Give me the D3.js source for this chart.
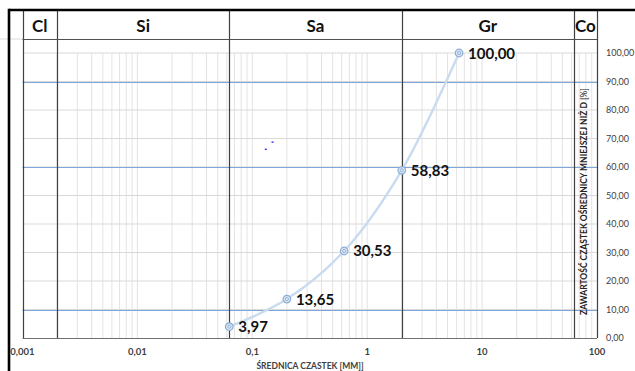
<!DOCTYPE html>
<html><head><meta charset="utf-8">
<script src="https://cdn.jsdelivr.net/npm/d3@7"></script>
<style>html,body{margin:0;padding:0;background:#fff;}svg{display:block;}</style>
</head><body>
<svg id="c" width="635" height="371"></svg>
<script>
// ---- data ----
const sieveSizes = [0.063, 0.2, 0.63, 2, 6.3];          // mm
const passing    = [3.97, 13.65, 30.53, 58.83, 100.00];  // %
const classBounds = [0.001, 0.002, 0.063, 2, 63, 100];
const classLabels = ["Cl", "Si", "Sa", "Gr", "Co"];
const refLevels = [10, 60, 90];
const xTicks = [0.001, 0.01, 0.1, 1, 10, 100];
const yTicks = [0, 10, 20, 30, 40, 50, 60, 70, 80, 90, 100];
const strayX = [0.131, 0.150];
const strayY = [66.3, 68.8];
const xTitle = "ŚREDNICA CZASTEK [MM]]";
const yTitleBold = "ZAWARTOŚĆ CZĄSTEK OŚREDNICY MNIEJSZEJ NIŻ D ";
const yTitleRest = "[%]";

const svg = d3.select("#c");
const x = d3.scaleLog().domain([0.001, 100]).range([22.5, 597]);
const y = d3.scaleLinear().domain([0, 100]).range([338, 53]);
const comma = v => d3.format(".2f")(v).replace(".", ",");
const font = "Lato, 'Open Sans', sans-serif";

// minor vertical grid
const minor = [];
for (let e = -3; e < 2; e++) for (let m = 1; m <= 9; m++) minor.push(m * Math.pow(10, e));
svg.append("g").selectAll("line").data(minor.filter(v => v > 0.001)).join("line")
  .attr("x1", d => x(d)).attr("x2", d => x(d)).attr("y1", y(100)).attr("y2", y(0))
  .attr("stroke", "#e3e3e3").attr("stroke-width", 1);
// horizontal grid
svg.append("g").selectAll("line").data(yTicks.slice(1)).join("line")
  .attr("x1", x(0.001)).attr("x2", x(100)).attr("y1", d => y(d)).attr("y2", d => y(d))
  .attr("stroke", "#d9d9d9").attr("stroke-width", 1);

// reference lines
svg.append("g").selectAll("line").data(refLevels).join("line")
  .attr("x1", x(0.001)).attr("x2", x(100)).attr("y1", d => Math.round(y(d)) + 0.5).attr("y2", d => Math.round(y(d)) + 0.5)
  .attr("stroke", "#7ea6d8").attr("stroke-width", 1.2);

// faint cell line
svg.append("line").attr("x1", 0).attr("x2", x(0.001)).attr("y1", 39).attr("y2", 39)
  .attr("stroke", "#dcdcdc");

// class boundary verticals
svg.append("g").selectAll("line").data(classBounds).join("line")
  .attr("x1", d => Math.round(x(d)) + 0.5).attr("x2", d => Math.round(x(d)) + 0.5)
  .attr("y1", 10).attr("y2", y(0))
  .attr("stroke", "#404040").attr("stroke-width", 1.2);
// header bottom + x axis line
svg.append("line").attr("x1", x(0.001)).attr("x2", x(100)).attr("y1", 39.5).attr("y2", 39.5)
  .attr("stroke", "#505050").attr("stroke-width", 1.2);
svg.append("line").attr("x1", x(0.001)).attr("x2", x(100)).attr("y1", y(0) + 0.5).attr("y2", y(0) + 0.5)
  .attr("stroke", "#707070").attr("stroke-width", 1);

// header labels
svg.append("g").selectAll("text").data(classLabels).join("text")
  .attr("x", (d, i) => (x(classBounds[i]) + x(classBounds[i + 1])) / 2)
  .attr("y", 31.5).attr("text-anchor", "middle")
  .attr("font-family", font).attr("font-weight", "bold").attr("font-size", 17)
  .attr("fill", "#111").text(d => d);

// frame
svg.append("line").attr("x1", 9).attr("x2", 635).attr("y1", 10).attr("y2", 10)
  .attr("stroke", "#000").attr("stroke-width", 2.6);
svg.append("line").attr("x1", 9).attr("x2", 9).attr("y1", 8.7).attr("y2", 371)
  .attr("stroke", "#000").attr("stroke-width", 2.6);

// curve
const pts = sieveSizes.map((s, i) => [x(s), y(passing[i])]);
svg.append("path").attr("d", d3.line().curve(d3.curveCatmullRom.alpha(0.5))(pts))
  .attr("fill", "none").attr("stroke", "#c9dbf0").attr("stroke-width", 2.4);

// markers
const mk = svg.append("g").selectAll("g").data(pts).join("g")
  .attr("transform", d => `translate(${d[0]},${d[1]})`);
mk.append("circle").attr("r", 3.8).attr("fill", "#dce6f2").attr("stroke", "#8eaed6").attr("stroke-width", 1.2);
mk.append("circle").attr("r", 1.6).attr("fill", "none").attr("stroke", "#8eaed6").attr("stroke-width", 0.9);

// data labels
svg.append("g").selectAll("text").data(passing).join("text")
  .attr("x", (d, i) => x(sieveSizes[i]) + 9).attr("y", d => y(d) + 5.5)
  .attr("font-family", font).attr("font-weight", "bold").attr("font-size", 15)
  .attr("fill", "#111").text(d => comma(d));

// stray dots
svg.append("g").selectAll("rect").data(strayX).join("rect")
  .attr("x", d => x(d) - 1).attr("y", (d, i) => y(strayY[i]) - 0.5)
  .attr("width", 2).attr("height", 1.5).attr("fill", "#3c3cff");

// y axis (right)
svg.append("g").selectAll("text").data(yTicks).join("text")
  .attr("x", 606).attr("y", d => y(d) + 3)
  .attr("font-family", font).attr("font-size", 9).attr("fill", "#404040")
  .text(d => comma(d));

// x axis ticks
svg.append("g").selectAll("text").data(xTicks).join("text")
  .attr("x", d => x(d)).attr("y", 355).attr("text-anchor", "middle")
  .attr("font-family", font).attr("font-weight", "bold").attr("font-size", 9.5).attr("fill", "#404040")
  .text(d => String(d).replace(".", ","));

// x title
svg.append("text").attr("x", 310).attr("y", 369).attr("text-anchor", "middle")
  .attr("font-family", font).attr("font-weight", "bold").attr("font-size", 8.5).attr("fill", "#404040")
  .text(xTitle);

// y title (rotated)
const yt = svg.append("text").attr("transform", `translate(587,${(y(0) + y(100)) / 2 + 6}) rotate(-90)`)
  .attr("text-anchor", "middle").attr("font-family", font).attr("font-size", 8.5).attr("fill", "#222");
yt.append("tspan").attr("font-weight", "bold").text(yTitleBold);
yt.append("tspan").attr("font-weight", "normal").text(yTitleRest);
</script>
</body></html>
